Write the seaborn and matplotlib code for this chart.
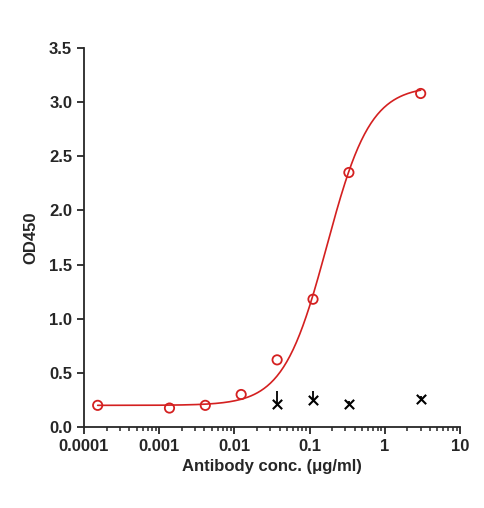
import numpy as np
import pandas as pd
import matplotlib.pyplot as plt
import seaborn as sns

sns.set_style("ticks")
plt.rcParams['font.family'] = ['Liberation Sans', 'DejaVu Sans']

# 数据
conc = [0.000152, 0.00137, 0.0041, 0.0123, 0.037, 0.111, 0.333, 3.0]
od = [0.20, 0.175, 0.20, 0.30, 0.62, 1.18, 2.35, 3.08]
ctrl_conc = [0.037, 0.111, 0.333, 3.0]
ctrl_od = [0.21, 0.25, 0.21, 0.26]
ctrl_err = [0.12, 0.08, 0.03, 0.03]

# 4PL 拟合参数
bottom, top, ec50, hill = 0.2, 3.15, 0.17, 1.5
xs = np.logspace(np.log10(0.000152), np.log10(3.0), 300)
fit = bottom + (top - bottom) * (xs / ec50) ** hill / (1 + (xs / ec50) ** hill)

fig = plt.figure(figsize=(4.85, 5.08), dpi=100)
ax = fig.add_axes([84 / 485, 81 / 508, 376 / 485, 379 / 508])

sns.lineplot(x=xs, y=fit, color='#d42020', linewidth=1.2, ax=ax)
sns.scatterplot(x=conc, y=od, marker='o', s=45, facecolor='none',
                edgecolor='#d42020', linewidth=1.3, ax=ax, zorder=3)
ax.errorbar(ctrl_conc, ctrl_od, yerr=[[0] * 4, ctrl_err], fmt='none',
            ecolor='black', elinewidth=1.3, capsize=0)
sns.scatterplot(x=ctrl_conc, y=ctrl_od, marker='x', s=45, color='black',
                linewidth=1.5, ax=ax, zorder=3)

ax.set_xscale('log')
ax.set_xlim(0.0001, 10)
ax.set_ylim(0, 3.5)
ax.set_xticks([0.0001, 0.001, 0.01, 0.1, 1, 10])
ax.set_xticklabels(['0.0001', '0.001', '0.01', '0.1', '1', '10'])
ax.set_yticks(np.arange(0, 3.6, 0.5))
ax.set_yticklabels([f'{v:.1f}' for v in np.arange(0, 3.6, 0.5)])
ax.tick_params(labelsize=12, width=1.3, length=5)
ax.tick_params(which='minor', width=1.1, length=3)
for lab in ax.get_xticklabels() + ax.get_yticklabels():
    lab.set_fontweight('bold')
for s in ['left', 'bottom']:
    ax.spines[s].set_linewidth(1.3)
sns.despine(ax=ax)
ax.set_xlabel('Antibody conc. (μg/ml)', fontsize=12, fontweight='bold')
ax.set_ylabel('OD450', fontsize=12, fontweight='bold', labelpad=8)

fig.savefig('out.png', dpi=100)
